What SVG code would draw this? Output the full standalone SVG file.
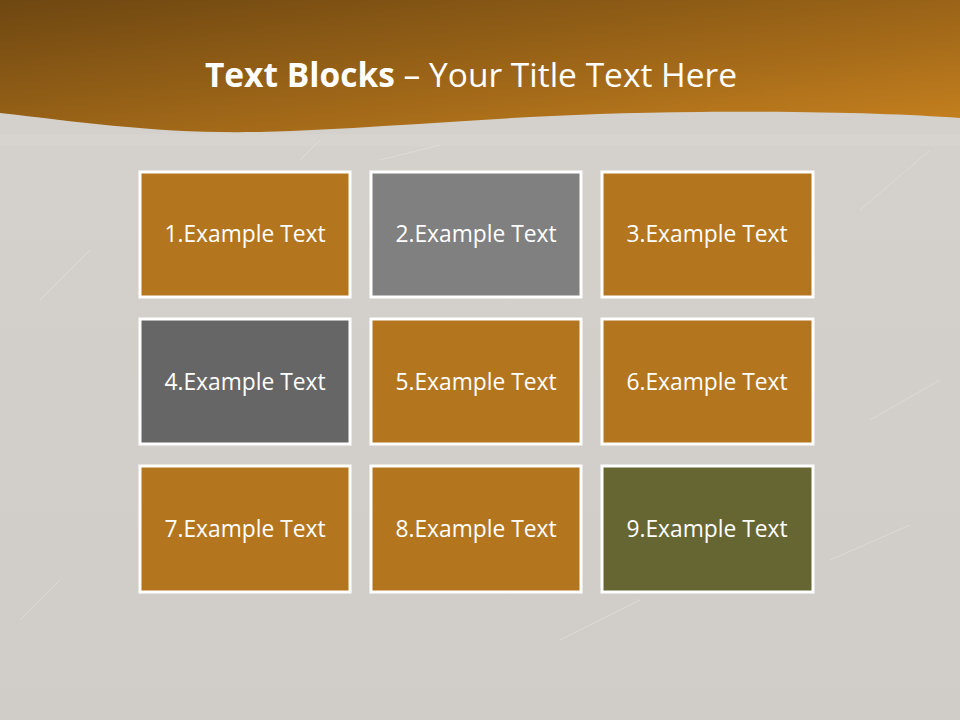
<svg xmlns="http://www.w3.org/2000/svg" width="960" height="720" viewBox="0 0 960 720">
<defs>
<linearGradient id="hdr" x1="0" y1="0" x2="1" y2="1">
<stop offset="0" stop-color="#6E4711"/>
<stop offset="0.55" stop-color="#9E6618"/>
<stop offset="1" stop-color="#C8821F"/>
</linearGradient>
<linearGradient id="bg" x1="0" y1="0" x2="0" y2="1">
<stop offset="0" stop-color="#D5D2CD"/>
<stop offset="1" stop-color="#D0CDC8"/>
</linearGradient>
<style>
.box{stroke:#FFFFFF;stroke-width:3}
.o{fill:#B3761F}
.g1{fill:#808080}
.g2{fill:#666666}
.ol{fill:#666633}
.lbl{font-family:"Open Sans","Liberation Sans",sans-serif;font-size:22.8px;fill:#FFFFFF;text-anchor:middle;dominant-baseline:central}
.scr{stroke:#EDEBE7;stroke-width:0.7;opacity:0.6}
</style>
</defs>
<rect x="0" y="0" width="960" height="720" fill="url(#bg)"/>
<rect x="0" y="134" width="960" height="12" fill="#DEDBD6" opacity="0.35"/>
<g class="scr">
<line x1="40" y1="300" x2="90" y2="250"/>
<line x1="860" y1="210" x2="930" y2="150"/>
<line x1="830" y1="560" x2="910" y2="525"/>
<line x1="560" y1="640" x2="640" y2="600"/>
<line x1="380" y1="160" x2="440" y2="145"/>
<line x1="20" y1="620" x2="60" y2="580"/>
<line x1="870" y1="420" x2="940" y2="380"/>
<line x1="300" y1="160" x2="320" y2="140"/>
</g>
<path d="M0 113 C80 122 160 134 260 132 C400 128 520 113 700 112 C820 111 900 114 960 118 L960 0 L0 0 Z" fill="url(#hdr)"/>
<text x="471" y="87" text-anchor="middle" font-family="'Open Sans','Liberation Sans',sans-serif" font-size="33.5" fill="#FFFFFF"><tspan font-weight="bold">Text Blocks</tspan> – Your Title Text Here</text>
<g id="node1"><rect class="box o" x="140" y="172" width="210" height="125"/><text class="lbl" x="245" y="233">1.Example Text</text></g>
<g id="node2"><rect class="box g1" x="371" y="172" width="210" height="125"/><text class="lbl" x="476" y="233">2.Example Text</text></g>
<g id="node3"><rect class="box o" x="602" y="172" width="211" height="125"/><text class="lbl" x="707" y="233">3.Example Text</text></g>
<g id="node4"><rect class="box g2" x="140" y="319" width="210" height="125"/><text class="lbl" x="245" y="381">4.Example Text</text></g>
<g id="node5"><rect class="box o" x="371" y="319" width="210" height="125"/><text class="lbl" x="476" y="381">5.Example Text</text></g>
<g id="node6"><rect class="box o" x="602" y="319" width="211" height="125"/><text class="lbl" x="707" y="381">6.Example Text</text></g>
<g id="node7"><rect class="box o" x="140" y="466" width="210" height="126"/><text class="lbl" x="245" y="528">7.Example Text</text></g>
<g id="node8"><rect class="box o" x="371" y="466" width="210" height="126"/><text class="lbl" x="476" y="528">8.Example Text</text></g>
<g id="node9"><rect class="box ol" x="602" y="466" width="211" height="126"/><text class="lbl" x="707" y="528">9.Example Text</text></g>
<g id="connectors"></g>
</svg>
